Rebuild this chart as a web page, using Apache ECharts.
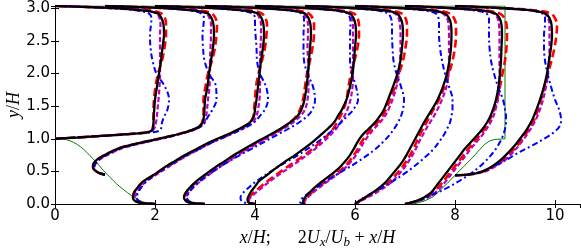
<!DOCTYPE html>
<html><head><meta charset="utf-8">
<script src="https://cdn.jsdelivr.net/npm/echarts@6/dist/echarts.min.js"></script>
<style>html,body{margin:0;padding:0;background:#fff}#c{width:581px;height:248px}</style>
</head><body><div id="c"></div>
<script>
// ---------------- data ----------------
const stations = [0, 1, 2, 3, 4, 5, 6, 7, 8];
const xTicks = [0, 2, 4, 6, 8, 10];
const yTicks = [0.0, 0.5, 1.0, 1.5, 2.0, 2.5, 3.0];

// y levels (y/H) at which the profiles were read
const y0 = [1.0, 1.01, 1.02, 1.04, 1.06, 1.08, 1.1, 1.13, 1.18, 1.25, 1.35, 1.45, 1.6, 1.8, 2.0, 2.2, 2.4, 2.6, 2.75, 2.85, 2.92, 2.96, 2.99, 3.01, 3.025, 3.036];
const y1 = [0.45, 0.47, 0.5, 0.54, 0.58, 0.63, 0.68, 0.74, 0.8, 0.86, 0.92, 0.98, 1.04, 1.1, 1.16, 1.22, 1.3, 1.45, 1.6, 1.8, 2.0, 2.2, 2.4, 2.6, 2.75, 2.85, 2.92, 2.96, 2.99, 3.01, 3.025, 3.036];
const yFlat = [0, 0.01, 0.03, 0.06, 0.1, 0.15, 0.2, 0.27, 0.35, 0.45, 0.55, 0.65, 0.75, 0.85, 0.95, 1.05, 1.15, 1.25, 1.35, 1.45, 1.6, 1.8, 2.0, 2.2, 2.4, 2.6, 2.75, 2.85, 2.92, 2.96, 2.99, 3.01, 3.025, 3.036];
const y8 = [0.44, 0.45, 0.47, 0.5, 0.55, 0.62, 0.7, 0.8, 0.9, 1.0, 1.1, 1.2, 1.3, 1.45, 1.6, 1.8, 2.0, 2.2, 2.4, 2.6, 2.75, 2.85, 2.92, 2.96, 2.99, 3.01, 3.025, 3.036];
const yLevels = [y0, y1, yFlat, yFlat, yFlat, yFlat, yFlat, yFlat, y8];

// 2Ux/Ub + x/H  (black solid)
const blackX = [
  [0, 0.2, 0.45, 0.85, 1.25, 1.6, 1.85, 1.94, 1.96, 1.97, 1.975, 1.985, 2.0, 2.04, 2.08, 2.12, 2.15, 2.18, 2.17, 2.13, 2.06, 1.85, 1.45, 0.95, 0.45, 0],
  [1.0, 0.9, 0.82, 0.77, 0.76, 0.78, 0.84, 0.97, 1.12, 1.3, 1.6, 1.95, 2.3, 2.6, 2.82, 2.93, 2.97, 2.99, 3.0, 3.05, 3.08, 3.12, 3.16, 3.18, 3.17, 3.13, 3.06, 2.85, 2.45, 1.95, 1.45, 1.0],
  [2.0, 1.8, 1.65, 1.58, 1.56, 1.57, 1.6, 1.67, 1.77, 1.98, 2.17, 2.38, 2.6, 2.85, 3.1, 3.4, 3.68, 3.9, 3.98, 4.0, 4.03, 4.06, 4.09, 4.12, 4.16, 4.18, 4.17, 4.13, 4.06, 3.85, 3.45, 2.95, 2.45, 2.0],
  [3.0, 2.8, 2.66, 2.6, 2.58, 2.6, 2.64, 2.72, 2.83, 3.0, 3.18, 3.38, 3.58, 3.8, 4.03, 4.27, 4.5, 4.7, 4.85, 4.93, 4.99, 5.03, 5.06, 5.08, 5.1, 5.12, 5.11, 5.07, 5.0, 4.8, 4.4, 3.9, 3.45, 3.0],
  [4.0, 3.92, 3.87, 3.85, 3.86, 3.89, 3.93, 4.0, 4.08, 4.25, 4.42, 4.6, 4.8, 4.98, 5.15, 5.3, 5.45, 5.58, 5.66, 5.74, 5.83, 5.9, 5.95, 5.98, 6.0, 6.02, 6.01, 5.97, 5.9, 5.7, 5.3, 4.85, 4.4, 4.0],
  [5.0, 4.97, 4.96, 4.97, 5.0, 5.06, 5.12, 5.22, 5.35, 5.52, 5.68, 5.8, 5.9, 5.98, 6.05, 6.14, 6.27, 6.4, 6.5, 6.58, 6.66, 6.76, 6.85, 6.91, 6.94, 6.96, 6.95, 6.91, 6.84, 6.65, 6.25, 5.8, 5.4, 5.0],
  [6.0, 6.02, 6.06, 6.12, 6.2, 6.3, 6.4, 6.52, 6.63, 6.74, 6.85, 6.95, 7.03, 7.1, 7.17, 7.24, 7.31, 7.38, 7.46, 7.54, 7.65, 7.76, 7.84, 7.89, 7.92, 7.93, 7.92, 7.88, 7.8, 7.6, 7.2, 6.75, 6.35, 6.0],
  [7.0, 7.06, 7.15, 7.27, 7.38, 7.48, 7.55, 7.62, 7.7, 7.8, 7.9, 8.0, 8.1, 8.2, 8.32, 8.44, 8.55, 8.64, 8.71, 8.76, 8.82, 8.87, 8.9, 8.92, 8.93, 8.94, 8.93, 8.89, 8.81, 8.6, 8.2, 7.75, 7.35, 7.0],
  [8.0, 8.25, 8.42, 8.55, 8.68, 8.82, 8.95, 9.08, 9.2, 9.3, 9.4, 9.48, 9.55, 9.63, 9.7, 9.78, 9.84, 9.88, 9.92, 9.94, 9.93, 9.89, 9.81, 9.6, 9.2, 8.75, 8.35, 8.0]
];
// red dashed
const redX = [
  [0, 0.2, 0.45, 0.85, 1.25, 1.6, 1.85, 1.94, 1.96, 1.97, 1.97, 1.97, 1.98, 2.01, 2.06, 2.14, 2.19, 2.22, 2.22, 2.2, 2.13, 1.98, 1.6, 1.05, 0.5, 0],
  [1.0, 0.9, 0.82, 0.77, 0.76, 0.78, 0.84, 0.97, 1.12, 1.3, 1.6, 1.95, 2.3, 2.6, 2.82, 2.92, 2.96, 2.97, 2.97, 3.01, 3.06, 3.14, 3.2, 3.23, 3.24, 3.21, 3.14, 2.98, 2.6, 2.05, 1.5, 1.0],
  [2.0, 1.8, 1.65, 1.58, 1.56, 1.57, 1.6, 1.67, 1.78, 1.99, 2.18, 2.4, 2.62, 2.87, 3.12, 3.42, 3.7, 3.9, 3.97, 3.98, 4.0, 4.02, 4.07, 4.14, 4.2, 4.23, 4.24, 4.21, 4.14, 3.98, 3.6, 3.05, 2.5, 2.0],
  [3.0, 2.8, 2.66, 2.6, 2.58, 2.6, 2.64, 2.73, 2.85, 3.03, 3.21, 3.41, 3.61, 3.83, 4.06, 4.3, 4.52, 4.7, 4.83, 4.9, 4.96, 5.0, 5.04, 5.1, 5.15, 5.18, 5.18, 5.15, 5.08, 4.92, 4.55, 4.0, 3.5, 3.0],
  [4.0, 3.9, 3.86, 3.85, 3.88, 3.94, 4.01, 4.12, 4.25, 4.43, 4.61, 4.8, 4.99, 5.16, 5.31, 5.45, 5.56, 5.64, 5.71, 5.77, 5.83, 5.87, 5.92, 5.99, 6.05, 6.08, 6.08, 6.05, 5.98, 5.8, 5.4, 4.9, 4.45, 4.0],
  [5.0, 4.98, 4.97, 4.99, 5.03, 5.1, 5.17, 5.28, 5.42, 5.6, 5.76, 5.88, 5.98, 6.06, 6.13, 6.22, 6.33, 6.45, 6.55, 6.62, 6.7, 6.8, 6.88, 6.96, 7.01, 7.04, 7.04, 7.01, 6.94, 6.75, 6.35, 5.85, 5.42, 5.0],
  [6.0, 6.02, 6.06, 6.12, 6.21, 6.32, 6.43, 6.57, 6.7, 6.82, 6.93, 7.02, 7.1, 7.17, 7.23, 7.29, 7.36, 7.43, 7.5, 7.57, 7.68, 7.79, 7.88, 7.95, 8.0, 8.02, 8.02, 7.98, 7.9, 7.7, 7.3, 6.8, 6.38, 6.0],
  [7.0, 7.07, 7.17, 7.3, 7.42, 7.52, 7.6, 7.68, 7.77, 7.87, 7.97, 8.07, 8.17, 8.27, 8.38, 8.49, 8.59, 8.67, 8.73, 8.78, 8.84, 8.9, 8.95, 9.0, 9.03, 9.04, 9.03, 8.99, 8.9, 8.7, 8.3, 7.8, 7.38, 7.0],
  [8.0, 8.25, 8.43, 8.57, 8.71, 8.86, 9.0, 9.13, 9.25, 9.35, 9.44, 9.52, 9.59, 9.66, 9.72, 9.79, 9.86, 9.93, 9.99, 10.03, 10.04, 10.0, 9.92, 9.7, 9.3, 8.8, 8.38, 8.0]
];
// magenta dashed
const magentaX = [
  [0, 0.2, 0.43, 0.82, 1.22, 1.57, 1.83, 1.95, 2.0, 2.02, 2.04, 2.05, 2.07, 2.09, 2.1, 2.1, 2.1, 2.1, 2.11, 2.09, 2.03, 1.85, 1.45, 0.95, 0.45, 0],
  [1.0, 0.9, 0.83, 0.79, 0.79, 0.82, 0.89, 1.02, 1.18, 1.36, 1.66, 2.0, 2.34, 2.63, 2.85, 2.96, 3.01, 3.04, 3.06, 3.09, 3.1, 3.1, 3.11, 3.12, 3.12, 3.09, 3.03, 2.85, 2.45, 1.95, 1.45, 1.0],
  [2.0, 1.82, 1.68, 1.62, 1.6, 1.62, 1.65, 1.72, 1.83, 2.03, 2.23, 2.44, 2.66, 2.91, 3.16, 3.46, 3.74, 3.95, 4.03, 4.06, 4.09, 4.1, 4.1, 4.1, 4.11, 4.12, 4.12, 4.09, 4.03, 3.85, 3.45, 2.95, 2.45, 2.0],
  [3.0, 2.82, 2.69, 2.64, 2.63, 2.65, 2.7, 2.79, 2.91, 3.08, 3.26, 3.46, 3.66, 3.88, 4.1, 4.34, 4.56, 4.76, 4.91, 5.0, 5.05, 5.07, 5.07, 5.06, 5.05, 5.06, 5.06, 5.03, 4.97, 4.8, 4.4, 3.9, 3.45, 3.0],
  [4.0, 3.92, 3.88, 3.88, 3.91, 3.98, 4.06, 4.17, 4.3, 4.48, 4.67, 4.86, 5.04, 5.21, 5.36, 5.5, 5.62, 5.71, 5.79, 5.85, 5.91, 5.95, 5.96, 5.96, 5.96, 5.96, 5.96, 5.93, 5.87, 5.7, 5.3, 4.85, 4.4, 4.0],
  [5.0, 4.99, 4.99, 5.01, 5.05, 5.12, 5.2, 5.32, 5.46, 5.64, 5.8, 5.92, 6.02, 6.1, 6.18, 6.27, 6.38, 6.5, 6.6, 6.67, 6.75, 6.83, 6.88, 6.9, 6.91, 6.91, 6.9, 6.87, 6.8, 6.62, 6.22, 5.78, 5.4, 5.0],
  [6.0, 6.03, 6.08, 6.15, 6.25, 6.37, 6.48, 6.62, 6.75, 6.87, 6.98, 7.07, 7.15, 7.22, 7.28, 7.35, 7.42, 7.5, 7.58, 7.65, 7.74, 7.83, 7.87, 7.88, 7.88, 7.88, 7.87, 7.84, 7.76, 7.58, 7.18, 6.75, 6.35, 6.0],
  [7.0, 7.08, 7.19, 7.33, 7.45, 7.56, 7.64, 7.73, 7.82, 7.92, 8.02, 8.12, 8.22, 8.32, 8.43, 8.54, 8.63, 8.71, 8.77, 8.81, 8.86, 8.89, 8.89, 8.89, 8.89, 8.89, 8.88, 8.85, 8.77, 8.58, 8.18, 7.75, 7.35, 7.0],
  [8.0, 8.26, 8.45, 8.6, 8.75, 8.9, 9.04, 9.17, 9.28, 9.38, 9.47, 9.55, 9.62, 9.7, 9.76, 9.82, 9.86, 9.88, 9.89, 9.89, 9.89, 9.86, 9.79, 9.58, 9.18, 8.75, 8.35, 8.0]
];
// blue dash-dot
const blueX = [
  [0, 0.2, 0.45, 0.85, 1.25, 1.62, 1.95, 2.1, 2.13, 2.14, 2.19, 2.25, 2.28, 2.2, 2.03, 1.95, 1.91, 1.9, 1.92, 1.93, 1.88, 1.7, 1.35, 0.9, 0.45, 0],
  [1.0, 0.9, 0.83, 0.79, 0.79, 0.82, 0.88, 1.0, 1.15, 1.33, 1.62, 1.97, 2.32, 2.62, 2.85, 2.97, 3.03, 3.15, 3.23, 3.22, 3.08, 2.99, 2.96, 2.95, 2.97, 2.98, 2.93, 2.75, 2.4, 1.95, 1.45, 1.0],
  [2.0, 1.85, 1.72, 1.66, 1.63, 1.65, 1.68, 1.74, 1.83, 2.0, 2.2, 2.42, 2.64, 2.9, 3.16, 3.46, 3.75, 3.98, 4.1, 4.2, 4.26, 4.22, 4.1, 4.04, 4.03, 4.01, 4.0, 4.0, 3.95, 3.75, 3.4, 2.95, 2.45, 2.0],
  [3.0, 2.85, 2.72, 2.66, 2.64, 2.66, 2.7, 2.78, 2.9, 3.07, 3.26, 3.47, 3.7, 3.94, 4.18, 4.42, 4.66, 4.88, 5.05, 5.15, 5.2, 5.16, 5.05, 4.98, 4.97, 4.97, 4.98, 4.98, 4.93, 4.75, 4.38, 3.9, 3.45, 3.0],
  [4.0, 3.85, 3.76, 3.72, 3.71, 3.74, 3.8, 3.9, 4.03, 4.22, 4.42, 4.64, 4.86, 5.06, 5.25, 5.42, 5.58, 5.72, 5.85, 5.97, 6.06, 6.02, 5.94, 5.9, 5.9, 5.9, 5.91, 5.9, 5.85, 5.65, 5.3, 4.85, 4.4, 4.0],
  [5.0, 4.93, 4.9, 4.91, 4.96, 5.04, 5.13, 5.26, 5.42, 5.63, 5.85, 6.06, 6.25, 6.42, 6.56, 6.68, 6.78, 6.86, 6.92, 6.96, 6.98, 6.92, 6.83, 6.77, 6.75, 6.74, 6.74, 6.72, 6.66, 6.5, 6.15, 5.75, 5.38, 5.0],
  [6.0, 6.02, 6.05, 6.1, 6.18, 6.3, 6.42, 6.58, 6.76, 6.96, 7.14, 7.3, 7.45, 7.58, 7.68, 7.77, 7.84, 7.9, 7.93, 7.95, 7.95, 7.88, 7.8, 7.74, 7.7, 7.68, 7.68, 7.67, 7.62, 7.45, 7.1, 6.7, 6.33, 6.0],
  [7.0, 7.06, 7.16, 7.3, 7.44, 7.58, 7.72, 7.9, 8.08, 8.28, 8.46, 8.6, 8.72, 8.82, 8.9, 8.96, 9.0, 9.02, 9.02, 9.0, 8.96, 8.86, 8.78, 8.72, 8.69, 8.68, 8.68, 8.68, 8.63, 8.46, 8.1, 7.7, 7.33, 7.0],
  [8.0, 8.22, 8.4, 8.55, 8.7, 8.88, 9.08, 9.3, 9.55, 9.78, 9.98, 10.1, 10.12, 10.08, 10.0, 9.92, 9.85, 9.8, 9.78, 9.78, 9.8, 9.8, 9.75, 9.58, 9.2, 8.75, 8.35, 8.0]
];

// hill geometry (green)
const hillLeftX = [0, 0.15, 0.3, 0.45, 0.57, 0.7, 0.83, 0.96, 1.1, 1.23, 1.37, 1.53, 1.7, 1.85, 1.93];
const hillLeftY = [1.0, 0.995, 0.97, 0.91, 0.84, 0.74, 0.64, 0.52, 0.41, 0.31, 0.22, 0.13, 0.05, 0.01, 0.0];
const hillRightX = [7.1, 7.2, 7.4, 7.56, 7.7, 7.85, 8.0, 8.18, 8.36, 8.5, 8.6, 8.7, 8.8, 9.0, 9.0, 0.0];
const hillRightY = [0.0, 0.005, 0.05, 0.11, 0.21, 0.32, 0.44, 0.58, 0.72, 0.84, 0.92, 0.97, 0.99, 1.0, 3.036, 3.036];

// ---------------- chart ----------------
function pairs(xs, ys) {
  if (xs.length !== ys.length) throw new Error('length mismatch ' + xs.length + ' vs ' + ys.length);
  return xs.map((x, i) => [x, ys[i]]);
}
const styles = [
  { name: 'red', arr: redX, color: '#ff0000', width: 2.6, type: [8, 4], z: 3 },
  { name: 'magenta', arr: magentaX, color: '#bf00bf', width: 2.2, type: [5, 2.5], z: 4 },
  { name: 'blue', arr: blueX, color: '#0000ff', width: 2, type: [6, 3, 2, 3], z: 5 },
  { name: 'black', arr: blackX, color: '#000000', width: 2.3, type: 'solid', z: 6 }
];
const series = [];
series.push({ type: 'line', data: pairs(hillLeftX, hillLeftY), showSymbol: false, smooth: 0.3,
  lineStyle: { color: '#008000', width: 1 }, z: 2, silent: true });
series.push({ type: 'line', data: pairs(hillRightX, hillRightY), showSymbol: false, smooth: false,
  lineStyle: { color: '#008000', width: 1 }, z: 2, silent: true });
styles.forEach(st => {
  stations.forEach((s, k) => {
    series.push({
      type: 'line', data: pairs(st.arr[k], yLevels[k]), showSymbol: false, smooth: 0.35,
      lineStyle: { color: st.color, width: st.width, type: st.type }, z: st.z, silent: true
    });
  });
});

const tickFont = { color: '#000', fontSize: 15, fontFamily: 'DejaVu Sans' };
const axisLine = { show: true, lineStyle: { color: '#000', width: 1 } };
const axisTick = { show: true, inside: true, length: 4, lineStyle: { color: '#000', width: 1 } };
const mathI = { fontFamily: 'Liberation Serif', fontStyle: 'italic', fontSize: 18, color: '#000', lineHeight: 22 };
const mathN = { fontFamily: 'Liberation Serif', fontSize: 18, color: '#000', lineHeight: 22 };
const mathS = { fontFamily: 'Liberation Serif', fontStyle: 'italic', fontSize: 13, color: '#000', lineHeight: 22, verticalAlign: 'bottom' };

const chart = echarts.init(document.getElementById('c'), null, { renderer: 'canvas' });
chart.setOption({
  animation: false,
  backgroundColor: '#fff',
  grid: { left: 55, right: 1, top: 6, bottom: 44, containLabel: false, outerBoundsMode: 'none' },
  xAxis: [
    { type: 'value', min: 0, max: 10.5, interval: 2, position: 'bottom',
      axisLine, axisTick, splitLine: { show: false },
      axisLabel: { ...tickFont, margin: 5, showMaxLabel: false,
        formatter: v => xTicks.includes(v) ? String(v) : '' },
      name: '{i|x}{n|/}{i|H}{n|;      2}{i|U}{s|x}{n|/}{i|U}{s|b}{n| + }{i|x}{n|/}{i|H}',
      nameLocation: 'middle', nameGap: 23, nameMoveOverlap: false,
      nameTextStyle: { rich: { i: mathI, n: mathN, s: mathS } } },
    { type: 'value', min: 0, max: 10.5, interval: 2, position: 'top',
      axisLine, axisTick, splitLine: { show: false }, axisLabel: { show: false } }
  ],
  yAxis: [
    { type: 'value', min: 0, max: 3.036, interval: 0.5, position: 'left',
      axisLine, axisTick, splitLine: { show: false },
      axisLabel: { ...tickFont, margin: 5, showMaxLabel: false,
        formatter: v => yTicks.some(t => Math.abs(t - v) < 1e-9) ? v.toFixed(1) : '' },
      name: '{i|y}{n|/}{i|H}', nameLocation: 'middle', nameGap: 30, nameRotate: 90, nameMoveOverlap: false,
      nameTextStyle: { rich: { i: mathI, n: mathN } } },
    { type: 'value', min: 0, max: 3.036, interval: 0.5, position: 'right',
      axisLine, axisTick, splitLine: { show: false }, axisLabel: { show: false } }
  ],
  series
});
</script></body></html>
